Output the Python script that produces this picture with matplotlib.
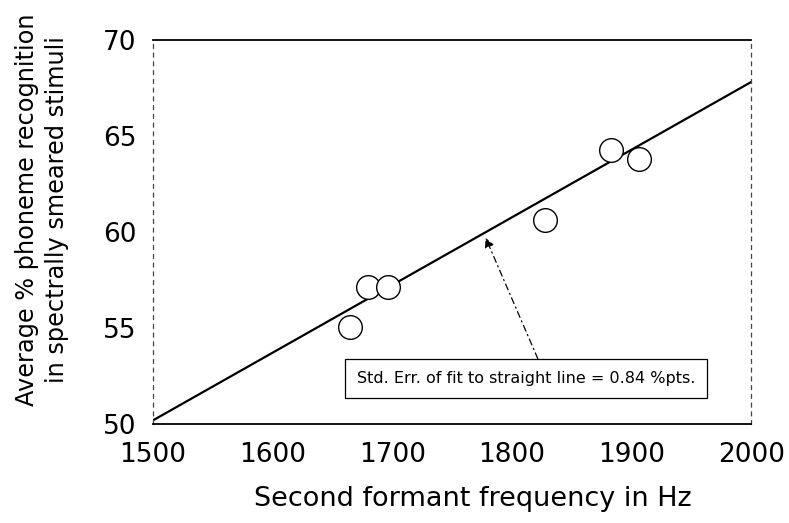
import matplotlib
matplotlib.use("Agg")
import matplotlib.pyplot as plt

plt.rcParams['font.family'] = ['DejaVu Sans']

# Vowel stimuli: second formant (Hz) vs. mean % phoneme recognition
f2_hz = [1665, 1680, 1696, 1828, 1883, 1906]
recognition = [55.05, 57.15, 57.15, 60.6, 64.25, 63.8]

# Least-squares straight line across the plotted frequency span
fit_x = [1500, 2000]
fit_y = [50.2, 67.8]

x_ticks = [1500, 1600, 1700, 1800, 1900, 2000]
y_ticks = [50, 55, 60, 65, 70]

fig = plt.figure(figsize=(7.89, 5.23), dpi=100)
ax = fig.add_axes([0.194, 0.189, 0.758, 0.735])

ax.plot(fit_x, fit_y, color='black', lw=1.6, zorder=2)
ax.scatter(f2_hz, recognition, s=290, facecolors='white', edgecolors='black',
           linewidths=1.0, zorder=3)

ax.set_xlim(1500, 2000)
ax.set_ylim(50, 70)
ax.set_xticks(x_ticks)
ax.set_yticks(y_ticks)
ax.tick_params(axis='both', length=0, labelsize=19)
ax.tick_params(axis='x', pad=13)
ax.tick_params(axis='y', pad=12)

for side in ('top', 'bottom'):
    ax.spines[side].set_linewidth(1.3)
for side in ('left', 'right'):
    ax.spines[side].set_linestyle((0, (3, 4)))
    ax.spines[side].set_linewidth(0.9)
    ax.spines[side].set_color('#444444')

ax.set_xlabel('Second formant frequency in Hz', fontsize=19.5)
ax.xaxis.set_label_coords(0.535, -0.16)
ax.set_ylabel('Average % phoneme recognition\nin spectrally smeared stimuli',
              fontsize=17.3, linespacing=1.35, va='center')
ax.yaxis.set_label_coords(-0.186, 0.557)

# Fit-quality note with a pointer to the regression line
ax.annotate('Std. Err. of fit to straight line = 0.84 %pts.',
            xy=(1778, 59.7), xytext=(1812, 52.37),
            fontsize=11.5, ha='center', va='center',
            bbox=dict(boxstyle='square,pad=0.75', fc='white', ec='black', lw=0.9),
            arrowprops=dict(arrowstyle='-|>', color='black', lw=0.9,
                            linestyle=(0, (5, 3, 1, 3)), mutation_scale=14,
                            shrinkA=0, shrinkB=0, relpos=(0.55, 1.0)))

fig.savefig('out.png', dpi=100)
